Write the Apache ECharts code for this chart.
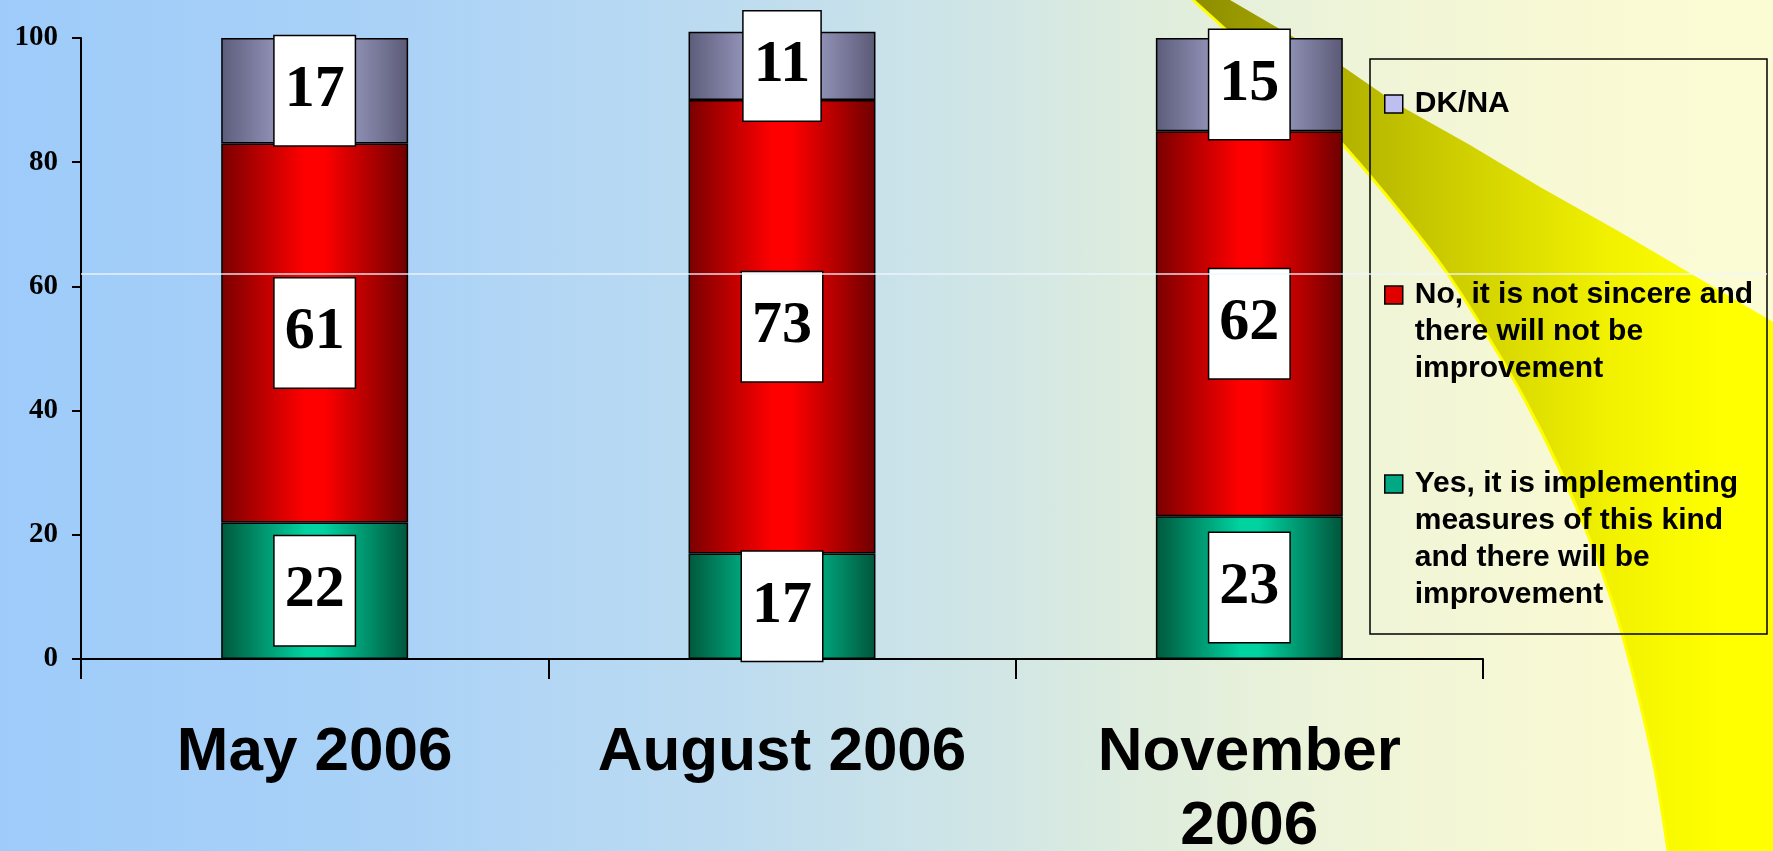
<!DOCTYPE html>
<html>
<head>
<meta charset="utf-8">
<script src="https://cdn.jsdelivr.net/npm/echarts@6/dist/echarts.min.js"></script>
<style>
  html, body { margin: 0; padding: 0; overflow: hidden; }
  #chart {
    width: 1773px; height: 851px;
    background: linear-gradient(to right, #9ECBFA 0%, #AAD2F7 22%, #BCDBF1 40%, #CFE5E6 55%, #DFEDDD 65%, #EEF4D8 76%, #F8F9D4 88%, #FCFCD4 100%);
  }
</style>
</head>
<body>
<div id="chart"></div>
<script>
// Survey waves
const categories = ['May 2006', 'August 2006', 'November\n2006'];

// Answer shares (%) per wave
const yesValues = [22, 17, 23];
const noValues = [61, 73, 62];
const dkValues = [17, 11, 15];

// Series names and the wrapped lines shown in the legend
const seriesNames = [
  'DK/NA',
  'No, it is not sincere and there will not be improvement',
  'Yes, it is implementing measures of this kind and there will be improvement'
];
const legendLines = [
  ['DK/NA'],
  ['No, it is not sincere and', 'there will not be', 'improvement'],
  ['Yes, it is implementing', 'measures of this kind', 'and there will be', 'improvement']
];

// Value axis ticks
const yMin = 0, yMax = 100, yStep = 20;

const chart = echarts.init(document.getElementById('chart'), null, { renderer: 'canvas' });
const LG = echarts.graphic.LinearGradient;

function cylinder(edgeL, mid, edgeR) {
  return new LG(0, 0, 1, 0, [
    { offset: 0, color: edgeL },
    { offset: 0.45, color: mid },
    { offset: 0.55, color: mid },
    { offset: 1, color: edgeR }
  ]);
}

const labelStyle = {
  show: true,
  position: 'inside',
  color: '#000',
  fontFamily: 'Liberation Serif',
  fontWeight: 'bold',
  fontSize: 60,
  lineHeight: 60,
  backgroundColor: '#fff',
  borderColor: '#000',
  borderWidth: 1.5,
  padding: [25, 10, 24, 10]
};

function barSeries(name, data, color) {
  return {
    name: name,
    type: 'bar',
    stack: 'total',
    barWidth: '40%',
    clip: false,
    data: data,
    itemStyle: { color: color, borderColor: '#000', borderWidth: 1.5 },
    label: labelStyle,
    emphasis: { disabled: true }
  };
}

// Legend text is centred on its marker, so blank lines are put in front
// of multi-line entries to keep the marker level with the first line.
const LH = 37;
function legendFor(idx, centerY, markerColor) {
  const lines = legendLines[idx];
  const n = lines.length;
  const padded = new Array(n - 1).fill(' ').concat(lines);
  return {
    show: true,
    left: 1384,
    top: centerY - (2 * n - 1) * LH / 2,
    orient: 'vertical',
    padding: 0,
    itemWidth: 18,
    itemHeight: 18,
    icon: 'rect',
    selectedMode: false,
    data: [{
      name: seriesNames[idx],
      itemStyle: { color: markerColor, borderColor: '#000', borderWidth: 1.5 }
    }],
    formatter: () => padded.join('\n'),
    textStyle: {
      color: '#000',
      fontFamily: 'Liberation Sans',
      fontWeight: 'bold',
      fontSize: 30,
      lineHeight: LH,
      padding: [0, 0, 0, 7]
    }
  };
}

// Decorative swoosh in the upper right corner
const swooshOuter = [
  [1230, 0], [1290, 35], [1345, 68], [1397, 104], [1470, 145], [1540, 187],
  [1620, 232], [1700, 279], [1773, 322], [1773, 851]
];
const swooshEdge = [
  [1668, 851], [1655, 770], [1637, 690], [1615, 610], [1590, 540], [1560, 470],
  [1525, 400], [1490, 340], [1447, 273], [1400, 212], [1345, 147], [1300, 100],
  [1250, 52], [1193, 0]
];

const option = {
  backgroundColor: 'transparent',
  animation: false,
  grid: { left: 81, right: 290, top: 38, bottom: 192, containLabel: false, outerBoundsMode: 'none' },
  xAxis: {
    type: 'category',
    data: categories,
    axisLine: { lineStyle: { color: '#000', width: 2 } },
    axisTick: { show: true, length: 20, lineStyle: { color: '#000', width: 2 } },
    axisLabel: {
      color: '#000',
      fontFamily: 'Liberation Sans',
      fontWeight: 'bold',
      fontSize: 62,
      lineHeight: 74,
      margin: 57,
      interval: 0
    }
  },
  yAxis: {
    type: 'value',
    min: yMin,
    max: yMax,
    interval: yStep,
    splitLine: { show: false },
    axisLine: { show: true, lineStyle: { color: '#000', width: 2 } },
    axisTick: { show: true, length: 9, lineStyle: { color: '#000', width: 2 } },
    axisLabel: {
      color: '#000',
      fontFamily: 'Liberation Serif',
      fontWeight: 'bold',
      fontSize: 29,
      margin: 23
    }
  },
  legend: [
    legendFor(0, 104, '#BEBEF0'),
    legendFor(1, 295, '#E00000'),
    legendFor(2, 484, '#00A884')
  ],
  series: [
    barSeries(seriesNames[2], yesValues, cylinder('#00583C', '#00D2A0', '#00553A')),
    barSeries(seriesNames[1], noValues, cylinder('#7A0000', '#FF0000', '#6E0000')),
    barSeries(seriesNames[0], dkValues, cylinder('#5C5C7A', '#AEAED8', '#5A5A76'))
  ],
  graphic: [
    {
      type: 'polygon',
      z: -10,
      silent: true,
      shape: { points: swooshOuter.concat(swooshEdge) },
      style: {
        fill: new LG(1190, 0, 1720, 0, [
          { offset: 0, color: '#8C8C00' },
          { offset: 0.3, color: '#B4B400' },
          { offset: 0.6, color: '#DADA00' },
          { offset: 0.8, color: '#F2F200' },
          { offset: 1, color: '#FFFF00' }
        ], true)
      }
    },
    {
      type: 'polyline',
      z: -9,
      silent: true,
      shape: { points: swooshEdge, smooth: 0.3 },
      style: { stroke: '#FFFF00', lineWidth: 3, fill: null }
    },
    {
      type: 'rect',
      z: 5,
      silent: true,
      shape: { x: 1370, y: 59, width: 397, height: 575 },
      style: { fill: null, stroke: '#000', lineWidth: 1.5 }
    },
    {
      type: 'line',
      z: 50,
      silent: true,
      shape: { x1: 81, y1: 274, x2: 1767, y2: 274 },
      style: { stroke: 'rgba(238,246,255,0.9)', lineWidth: 1.5 }
    }
  ]
};

chart.setOption(option);
</script>
</body>
</html>
